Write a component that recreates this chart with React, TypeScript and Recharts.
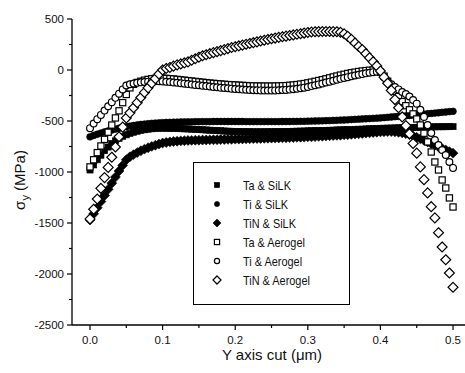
import React from 'react';
import { Line, LineChart, XAxis, YAxis } from 'recharts';

// sampling positions along the cut (um)
const xs = [
  0, 0.005, 0.01, 0.015, 0.02, 0.025, 0.03, 0.035, 0.04, 0.045,
  0.05, 0.055, 0.06, 0.065, 0.07, 0.075, 0.08, 0.085, 0.09, 0.095,
  0.1, 0.105, 0.11, 0.115, 0.12, 0.125, 0.13, 0.135, 0.14, 0.145,
  0.15, 0.155, 0.16, 0.165, 0.17, 0.175, 0.18, 0.185, 0.19, 0.195,
  0.2, 0.205, 0.21, 0.215, 0.22, 0.225, 0.23, 0.235, 0.24, 0.245,
  0.25, 0.255, 0.26, 0.265, 0.27, 0.275, 0.28, 0.285, 0.29, 0.295,
  0.3, 0.305, 0.31, 0.315, 0.32, 0.325, 0.33, 0.335, 0.34, 0.345,
  0.35, 0.355, 0.36, 0.365, 0.37, 0.375, 0.38, 0.385, 0.39, 0.395,
  0.4, 0.405, 0.41, 0.415, 0.42, 0.425, 0.43, 0.435, 0.44, 0.445,
  0.45, 0.455, 0.46, 0.465, 0.47, 0.475, 0.48, 0.485, 0.49, 0.495,
  0.5,
];

// sigma_y (MPa)
const taSilk = [
  -980, -930, -880, -835, -790, -755, -720, -695, -670, -650,
  -635, -622, -610, -600, -592, -586, -580, -576, -573, -571,
  -570, -571, -572, -573, -574, -575, -577, -578, -580, -582,
  -584, -586, -588, -590, -592, -594, -596, -598, -600, -601,
  -602, -603, -604, -605, -605, -606, -606, -606, -606, -605,
  -605, -604, -604, -603, -603, -602, -601, -600, -599, -598,
  -597, -596, -595, -594, -593, -592, -591, -590, -588, -587,
  -586, -585, -584, -582, -581, -580, -578, -577, -575, -574,
  -572, -571, -570, -569, -568, -567, -566, -565, -564, -563,
  -562, -561, -560, -559, -558, -557, -557, -556, -556, -555,
  -555,
];
const tiSilk = [
  -655, -642, -630, -618, -607, -597, -588, -579, -571, -563,
  -556, -550, -544, -539, -534, -530, -526, -523, -520, -518,
  -516, -514, -513, -512, -511, -510, -509, -508, -508, -507,
  -507, -506, -506, -506, -505, -505, -505, -505, -505, -505,
  -505, -505, -505, -506, -506, -506, -506, -506, -506, -506,
  -506, -506, -506, -505, -505, -505, -504, -504, -503, -503,
  -502, -501, -500, -499, -498, -497, -496, -494, -493, -491,
  -490, -488, -486, -484, -482, -480, -478, -476, -474, -472,
  -470, -467, -464, -461, -458, -455, -452, -449, -446, -443,
  -440, -436, -433, -429, -426, -422, -419, -415, -412, -408,
  -405,
];
const tinSilk = [
  -1470, -1410, -1350, -1290, -1230, -1170, -1110, -1050, -990, -935,
  -880, -850, -830, -810, -792, -776, -762, -749, -737, -726,
  -716, -710, -705, -701, -698, -695, -693, -691, -690, -689,
  -688, -687, -686, -685, -684, -683, -682, -681, -680, -679,
  -678, -677, -676, -675, -674, -673, -672, -671, -670, -669,
  -668, -667, -666, -665, -664, -663, -662, -660, -659, -658,
  -656, -655, -653, -651, -649, -647, -645, -643, -641, -639,
  -636, -634, -631, -628, -625, -622, -619, -616, -613, -610,
  -607, -605, -604, -604, -606, -610, -616, -624, -634, -646,
  -660, -675, -690, -706, -722, -738, -754, -770, -785, -800,
  -815,
];
const taAerogel = [
  -950, -880, -810, -745, -680, -610, -540, -470, -400, -320,
  -240, -175, -140, -122, -110, -100, -92, -86, -82, -80,
  -80, -82, -85, -88, -92, -96, -100, -104, -108, -112,
  -116, -120, -124, -128, -131, -134, -137, -140, -143, -145,
  -147, -149, -151, -153, -155, -156, -157, -158, -158, -158,
  -158, -157, -156, -155, -153, -150, -147, -143, -138, -133,
  -126, -119, -111, -103, -95, -86, -77, -68, -59, -50,
  -42, -34, -27, -21, -15, -10, -6, -2, 0, 2,
  -20, -60, -110, -160, -210, -260, -310, -350, -390, -430,
  -480, -539, -620, -705, -804, -902, -980, -1078, -1157, -1254,
  -1343,
];
const tiAerogel = [
  -570, -525, -482, -440, -398, -356, -315, -273, -232, -190,
  -152, -140, -132, -126, -121, -117, -114, -112, -111, -111,
  -112, -115, -118, -122, -126, -130, -134, -138, -142, -146,
  -150, -154, -158, -162, -166, -170, -174, -177, -180, -183,
  -186, -189, -192, -194, -196, -198, -199, -200, -201, -201,
  -201, -200, -199, -197, -195, -192, -188, -184, -179, -173,
  -166, -158, -150, -141, -132, -123, -114, -105, -96, -87,
  -78, -70, -62, -54, -47, -40, -33, -27, -21, -16,
  -20, -70, -115, -140, -166, -190, -215, -235, -260, -295,
  -330, -390, -460, -540, -617, -686, -735, -784, -833, -902,
  -960,
];
const tinAerogel = [
  -1460, -1365, -1265, -1160, -1055, -955, -855, -755, -655, -560,
  -470, -420, -370, -320, -270, -220, -175, -130, -85, -40,
  0, 15, 25, 38, 50, 60, 70, 80, 95, 110,
  125, 140, 150, 160, 170, 180, 190, 200, 210, 220,
  228, 236, 244, 252, 260, 268, 276, 284, 292, 299,
  306, 313, 320, 326, 332, 338, 344, 350, 356, 362,
  368, 372, 375, 376, 377, 377, 377, 376, 375, 370,
  355, 330, 300, 265, 230, 200, 160, 120, 80, 40,
  -10, -70, -130, -200, -290, -370, -460, -545, -625, -720,
  -815, -950, -1075, -1205, -1340, -1450, -1595, -1735, -1860, -1990,
  -2130,
];

const xTicks = [0, 0.05, 0.1, 0.15, 0.2, 0.25, 0.3, 0.35, 0.4, 0.45, 0.5];
const yTicks = [-2500, -2250, -2000, -1750, -1500, -1250, -1000, -750, -500, -250, 0, 250, 500];

type Kind = 'square' | 'circle' | 'diamond';

const seriesList: { key: string; name: string; values: number[]; kind: Kind; filled: boolean }[] = [
  { key: 'taSilk', name: 'Ta & SiLK', values: taSilk, kind: 'square', filled: true },
  { key: 'tiSilk', name: 'Ti & SiLK', values: tiSilk, kind: 'circle', filled: true },
  { key: 'tinSilk', name: 'TiN & SiLK', values: tinSilk, kind: 'diamond', filled: true },
  { key: 'taAerogel', name: 'Ta & Aerogel', values: taAerogel, kind: 'square', filled: false },
  { key: 'tiAerogel', name: 'Ti & Aerogel', values: tiAerogel, kind: 'circle', filled: false },
  { key: 'tinAerogel', name: 'TiN & Aerogel', values: tinAerogel, kind: 'diamond', filled: false },
];

const data = xs.map((x, i) => {
  const row: Record<string, number> = { x };
  seriesList.forEach((s) => {
    row[s.key] = s.values[i];
  });
  return row;
});

const FONT = '"Liberation Sans", Arial, sans-serif';

function Marker({ cx, cy, kind, filled, s }: { cx: number; cy: number; kind: Kind; filled: boolean; s: number }) {
  const fill = filled ? '#000' : '#fff';
  const sw = filled ? 0.6 : 1.2;
  if (kind === 'square') {
    return <rect x={cx - s / 2} y={cy - s / 2} width={s} height={s} fill={fill} stroke="#000" strokeWidth={sw} />;
  }
  if (kind === 'circle') {
    return <circle cx={cx} cy={cy} r={s / 2} fill={fill} stroke="#000" strokeWidth={sw} />;
  }
  const h = s * 0.62;
  return (
    <path
      d={`M${cx},${cy - h}L${cx + h},${cy}L${cx},${cy + h}L${cx - h},${cy}Z`}
      fill={fill}
      stroke="#000"
      strokeWidth={sw}
    />
  );
}

function XTick(props: any) {
  const { x, y, payload } = props;
  const v = payload.value as number;
  const major = Math.abs(v * 10 - Math.round(v * 10)) < 1e-6;
  return (
    <g>
      <line x1={x} y1={y} x2={x} y2={y + (major ? 5 : 3)} stroke="#000" strokeWidth={1.2} />
      {major && (
        <text x={x} y={y + 19} textAnchor="middle" fontSize={11.5} fontFamily={FONT} fill="#111">
          {v.toFixed(1)}
        </text>
      )}
    </g>
  );
}

function YTick(props: any) {
  const { x, y, payload } = props;
  const v = payload.value as number;
  const major = v % 500 === 0;
  return (
    <g>
      <line x1={x - (major ? 5 : 3)} y1={y} x2={x} y2={y} stroke="#000" strokeWidth={1.2} />
      {major && (
        <text x={x - 8} y={y + 4} textAnchor="end" fontSize={11.5} fontFamily={FONT} fill="#111">
          {v}
        </text>
      )}
    </g>
  );
}

const legendRows = [185, 204, 223, 242, 261, 280];

export default function App() {
  return (
    <div style={{ position: 'absolute', left: 0, top: 0, width: 465, height: 373, background: '#fff' }}>
      <LineChart width={465} height={373} data={data} margin={{ top: 19, right: 0, bottom: 0, left: 0 }}>
        <XAxis
          dataKey="x"
          type="number"
          domain={[-0.0248, 0.5165]}
          allowDataOverflow
          ticks={xTicks}
          interval={0}
          height={48}
          tickSize={0}
          tickMargin={0}
          tickLine={false}
          axisLine={{ stroke: '#000', strokeWidth: 1.3 }}
          tick={<XTick />}
        />
        <YAxis
          type="number"
          domain={[-2500, 500]}
          allowDataOverflow
          ticks={yTicks}
          interval={0}
          width={72}
          tickSize={0}
          tickMargin={0}
          tickLine={false}
          axisLine={{ stroke: '#000', strokeWidth: 1.3 }}
          tick={<YTick />}
        />
        {seriesList.map((s) => (
          <Line
            key={s.key}
            dataKey={s.key}
            name={s.name}
            stroke="none"
            isAnimationActive={false}
            activeDot={false}
            dot={(p: any) => (
              <Marker
                key={`${s.key}-${p.index}`}
                cx={p.cx}
                cy={p.cy}
                kind={s.kind}
                filled={s.filled}
                s={s.kind === 'diamond' ? 8 : s.kind === 'circle' ? 6.8 : 6.2}
              />
            )}
          />
        ))}
      </LineChart>
      <svg
        width={465}
        height={373}
        style={{ position: 'absolute', left: 0, top: 0, pointerEvents: 'none' }}
        fontFamily={FONT}
      >
        <text x={272} y={360} textAnchor="middle" fontSize={15} fill="#111">
          Y axis cut (μm)
        </text>
        <text transform="translate(25,180) rotate(-90)" textAnchor="middle" fontSize={15} fill="#111">
          σ<tspan fontSize={11} dy={4}>y</tspan>
          <tspan dy={-4}> (MPa)</tspan>
        </text>
        <rect x={193.5} y={162.5} width={156} height={142} fill="#fff" stroke="#000" strokeWidth={1} />
        {seriesList.map((s, i) => (
          <g key={s.key}>
            <Marker cx={217} cy={legendRows[i]} kind={s.kind} filled={s.filled} s={s.kind === 'diamond' ? 6.5 : 5.2} />
            <text
              transform={`translate(243,${legendRows[i] + 4.5}) scale(0.84,1)`}
              fontSize={13}
              fill="#111"
            >
              {s.name}
            </text>
          </g>
        ))}
      </svg>
    </div>
  );
}
